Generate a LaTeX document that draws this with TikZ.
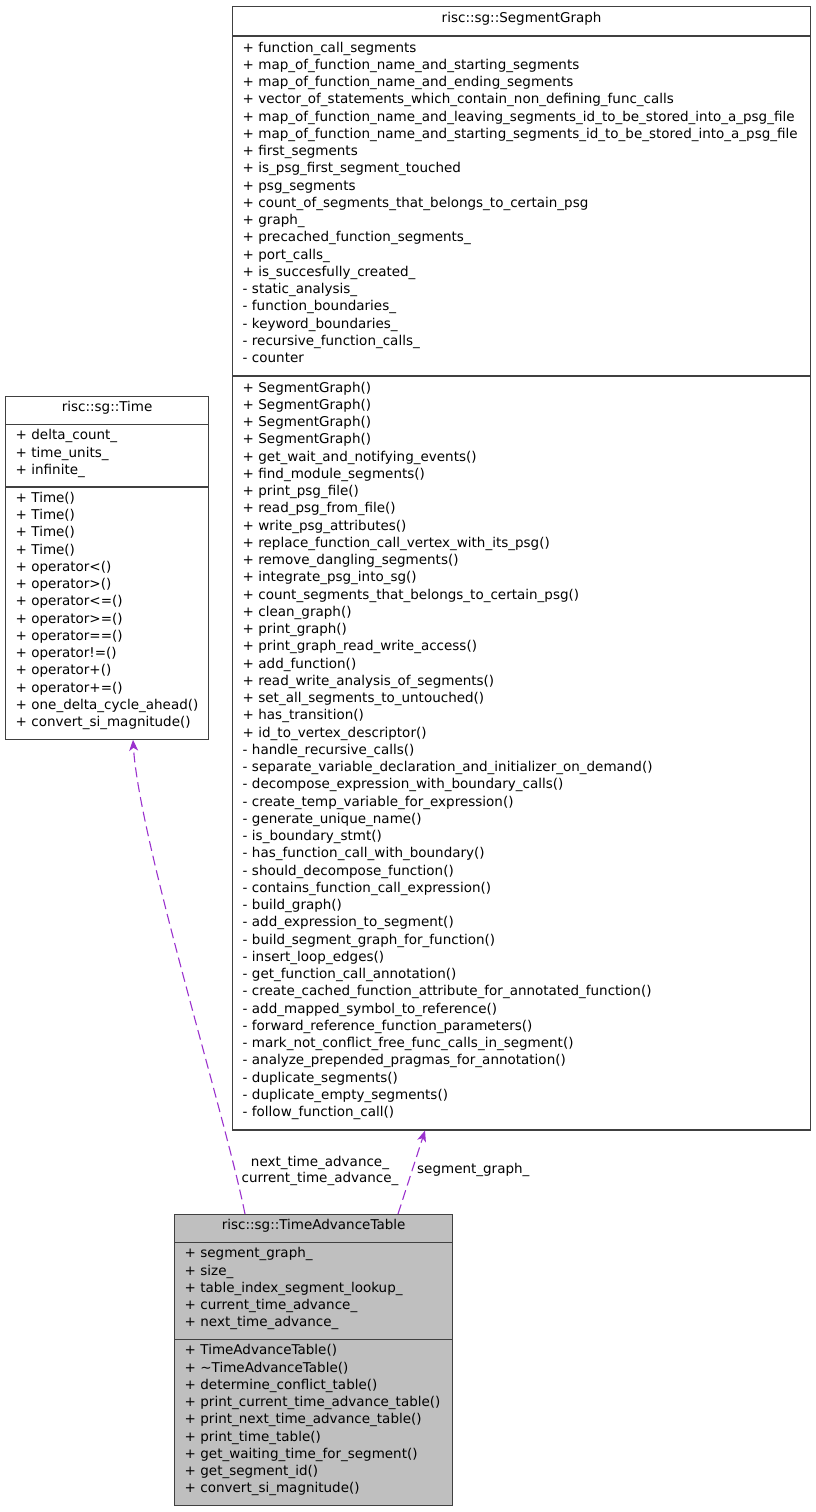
\documentclass[tikz,border=0pt]{standalone}
\usepackage{fontspec}
\setmainfont{DejaVu Sans}
\usetikzlibrary{shapes.multipart,arrows.meta}
\definecolor{edgepurple}{HTML}{9A32CD}
\definecolor{classgray}{HTML}{BFBFBF}
% one line of a class compartment
\newcommand{\mrow}[1]{\rule[-7.25pt]{0pt}{17.25pt}\smash{#1}\par}
\newcommand{\mtitle}[1]{\centering\rule[-7.25pt]{0pt}{17.25pt}\smash{#1}\par}

\tikzset{
  umlclass/.style={rectangle split, rectangle split parts=3, draw=black!75,
    line width=1.2pt, fill=white, text width=#1, align=left,
    inner xsep=10pt, inner ysep=4.75pt, anchor=north west,
    font=\fontsize{13.5}{17.25}\selectfont},
  relation/.style={draw=edgepurple, line width=1.1pt, dash pattern=on 10pt off 5pt,
    -{Stealth[length=11pt,width=9pt,inset=3pt]}},
  rolelabel/.style={font=\fontsize{13.5}{16.5}\selectfont, inner sep=0pt}
}

\begin{document}
\begin{tikzpicture}[x=1pt,y=1pt]
  \useasboundingbox (0,0) rectangle (816,-1512);

  % the class graph
  \node[umlclass=558pt, inner ysep=5.5pt] (sg) at (232,-6) {%
    \mtitle{risc::sg::SegmentGraph}
    \nodepart{two}
    \mrow{+ function\_call\_segments}
    \mrow{+ map\_of\_function\_name\_and\_starting\_segments}
    \mrow{+ map\_of\_function\_name\_and\_ending\_segments}
    \mrow{+ vector\_of\_statements\_which\_contain\_non\_defining\_func\_calls}
    \mrow{+ map\_of\_function\_name\_and\_leaving\_segments\_id\_to\_be\_stored\_into\_a\_psg\_file}
    \mrow{+ map\_of\_function\_name\_and\_starting\_segments\_id\_to\_be\_stored\_into\_a\_psg\_file}
    \mrow{+ first\_segments}
    \mrow{+ is\_psg\_first\_segment\_touched}
    \mrow{+ psg\_segments}
    \mrow{+ count\_of\_segments\_that\_belongs\_to\_certain\_psg}
    \mrow{+ graph\_}
    \mrow{+ precached\_function\_segments\_}
    \mrow{+ port\_calls\_}
    \mrow{+ is\_succesfully\_created\_}
    \mrow{- static\_analysis\_}
    \mrow{- function\_boundaries\_}
    \mrow{- keyword\_boundaries\_}
    \mrow{- recursive\_function\_calls\_}
    \mrow{- counter}
    \nodepart{three}
    \mrow{+ SegmentGraph()}
    \mrow{+ SegmentGraph()}
    \mrow{+ SegmentGraph()}
    \mrow{+ SegmentGraph()}
    \mrow{+ get\_wait\_and\_notifying\_events()}
    \mrow{+ find\_module\_segments()}
    \mrow{+ print\_psg\_file()}
    \mrow{+ read\_psg\_from\_file()}
    \mrow{+ write\_psg\_attributes()}
    \mrow{+ replace\_function\_call\_vertex\_with\_its\_psg()}
    \mrow{+ remove\_dangling\_segments()}
    \mrow{+ integrate\_psg\_into\_sg()}
    \mrow{+ count\_segments\_that\_belongs\_to\_certain\_psg()}
    \mrow{+ clean\_graph()}
    \mrow{+ print\_graph()}
    \mrow{+ print\_graph\_read\_write\_access()}
    \mrow{+ add\_function()}
    \mrow{+ read\_write\_analysis\_of\_segments()}
    \mrow{+ set\_all\_segments\_to\_untouched()}
    \mrow{+ has\_transition()}
    \mrow{+ id\_to\_vertex\_descriptor()}
    \mrow{- handle\_recursive\_calls()}
    \mrow{- separate\_variable\_declaration\_and\_initializer\_on\_demand()}
    \mrow{- decompose\_expression\_with\_boundary\_calls()}
    \mrow{- create\_temp\_variable\_for\_expression()}
    \mrow{- generate\_unique\_name()}
    \mrow{- is\_boundary\_stmt()}
    \mrow{- has\_function\_call\_with\_boundary()}
    \mrow{- should\_decompose\_function()}
    \mrow{- contains\_function\_call\_expression()}
    \mrow{- build\_graph()}
    \mrow{- add\_expression\_to\_segment()}
    \mrow{- build\_segment\_graph\_for\_function()}
    \mrow{- insert\_loop\_edges()}
    \mrow{- get\_function\_call\_annotation()}
    \mrow{- create\_cached\_function\_attribute\_for\_annotated\_function()}
    \mrow{- add\_mapped\_symbol\_to\_reference()}
    \mrow{- forward\_reference\_function\_parameters()}
    \mrow{- mark\_not\_conflict\_free\_func\_calls\_in\_segment()}
    \mrow{- analyze\_prepended\_pragmas\_for\_annotation()}
    \mrow{- duplicate\_segments()}
    \mrow{- duplicate\_empty\_segments()}
    \mrow{- follow\_function\_call()}
  };

  % the time class
  \node[umlclass=183pt] (time) at (5,-396) {%
    \mtitle{risc::sg::Time}
    \nodepart{two}
    \mrow{+ delta\_count\_}
    \mrow{+ time\_units\_}
    \mrow{+ infinite\_}
    \nodepart{three}
    \mrow{+ Time()}
    \mrow{+ Time()}
    \mrow{+ Time()}
    \mrow{+ Time()}
    \mrow{+ operator<()}
    \mrow{+ operator>()}
    \mrow{+ operator<=()}
    \mrow{+ operator>=()}
    \mrow{+ operator==()}
    \mrow{+ operator!=()}
    \mrow{+ operator+()}
    \mrow{+ operator+=()}
    \mrow{+ one\_delta\_cycle\_ahead()}
    \mrow{+ convert\_si\_magnitude()}
  };

  % the table class (the one documented)
  \node[umlclass=258pt, fill=classgray] (tat) at (174,-1214) {%
    \mtitle{risc::sg::TimeAdvanceTable}
    \nodepart{two}
    \mrow{+ segment\_graph\_}
    \mrow{+ size\_}
    \mrow{+ table\_index\_segment\_lookup\_}
    \mrow{+ current\_time\_advance\_}
    \mrow{+ next\_time\_advance\_}
    \nodepart{three}
    \mrow{+ TimeAdvanceTable()}
    \mrow{+ \textasciitilde TimeAdvanceTable()}
    \mrow{+ determine\_conflict\_table()}
    \mrow{+ print\_current\_time\_advance\_table()}
    \mrow{+ print\_next\_time\_advance\_table()}
    \mrow{+ print\_time\_table()}
    \mrow{+ get\_waiting\_time\_for\_segment()}
    \mrow{+ get\_segment\_id()}
    \mrow{+ convert\_si\_magnitude()}
  };

  \draw[relation] ([xshift=71pt]tat.north west)
    .. controls +(-20,100) and +(6,-100) .. ([xshift=128pt]time.south west);
  \draw[relation] ([xshift=224pt]tat.north west) -- ([xshift=193pt]sg.south west);

  \node[rolelabel, align=center] (timelbl) at (320,-1171)
    {next\_time\_advance\_\\current\_time\_advance\_};
  \node[rolelabel, anchor=west] (sglbl) at (417,-1170) {segment\_graph\_};
\end{tikzpicture}
\end{document}
